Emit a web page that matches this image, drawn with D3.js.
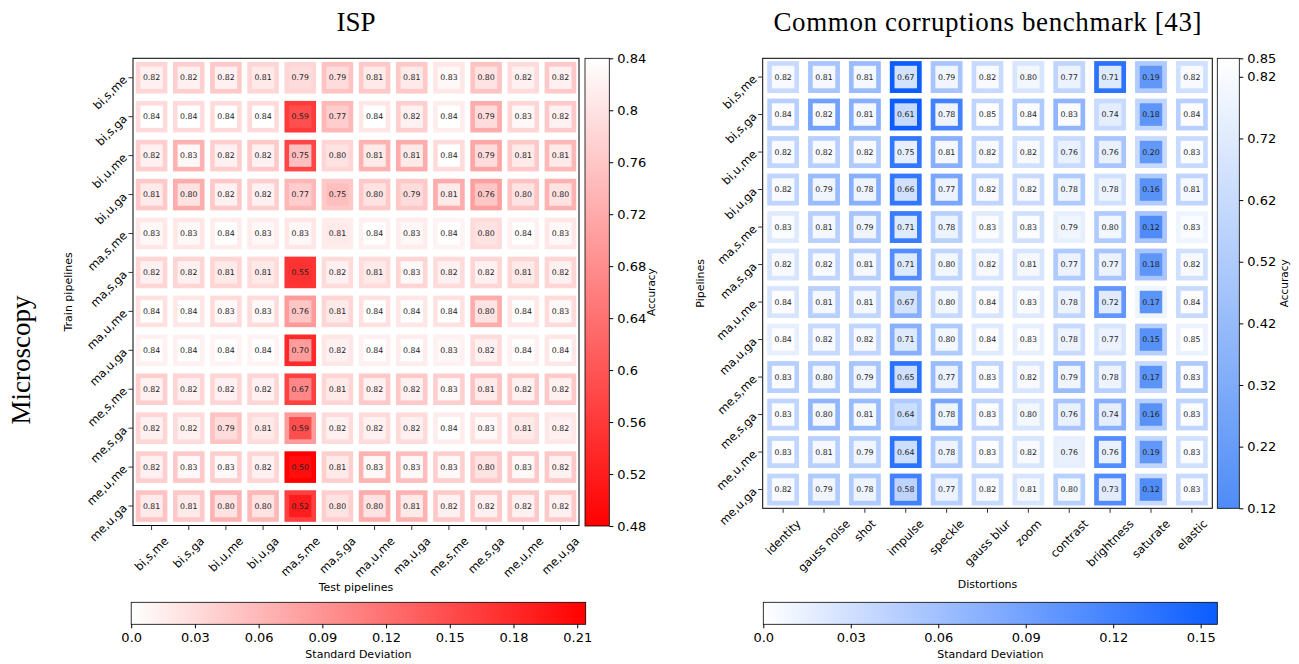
<!DOCTYPE html>
<html>
<head>
<meta charset="utf-8">
<script src="https://cdn.jsdelivr.net/npm/d3@7"></script>
<style>
  body { margin: 0; background: #fff; }
  svg { display: block; font-family: "DejaVu Sans", sans-serif; }
  svg text { font-family: "DejaVu Sans", sans-serif; }
  svg text.title { font-family: "Liberation Serif", serif; font-size: 27px; }
</style>
</head>
<body>
<svg id="chart" width="1299" height="664"></svg>
<script>
// ---- data ----
const pipelines = ["bi,s,me", "bi,s,ga", "bi,u,me", "bi,u,ga", "ma,s,me", "ma,s,ga",
    "ma,u,me", "ma,u,ga", "me,s,me", "me,s,ga", "me,u,me", "me,u,ga"];

const distortions = ["identity", "gauss noise", "shot", "impulse", "speckle", "gauss blur",
    "zoom", "contrast", "brightness", "saturate", "elastic"];

// ISP panel: rows = train pipelines, cols = test pipelines
const ispAccuracy = [
    [0.82, 0.82, 0.82, 0.81, 0.79, 0.79, 0.81, 0.81, 0.83, 0.80, 0.82, 0.82],
    [0.84, 0.84, 0.84, 0.84, 0.59, 0.77, 0.84, 0.82, 0.84, 0.79, 0.83, 0.82],
    [0.82, 0.83, 0.82, 0.82, 0.75, 0.80, 0.81, 0.81, 0.84, 0.79, 0.81, 0.81],
    [0.81, 0.80, 0.82, 0.82, 0.77, 0.75, 0.80, 0.79, 0.81, 0.76, 0.80, 0.80],
    [0.83, 0.83, 0.84, 0.83, 0.83, 0.81, 0.84, 0.83, 0.84, 0.80, 0.84, 0.83],
    [0.82, 0.82, 0.81, 0.81, 0.55, 0.82, 0.81, 0.83, 0.82, 0.82, 0.81, 0.82],
    [0.84, 0.84, 0.83, 0.83, 0.76, 0.81, 0.84, 0.84, 0.84, 0.80, 0.84, 0.83],
    [0.84, 0.84, 0.84, 0.84, 0.70, 0.82, 0.84, 0.84, 0.83, 0.82, 0.84, 0.84],
    [0.82, 0.82, 0.82, 0.82, 0.67, 0.81, 0.82, 0.82, 0.83, 0.81, 0.82, 0.82],
    [0.82, 0.82, 0.79, 0.81, 0.59, 0.82, 0.82, 0.82, 0.84, 0.83, 0.81, 0.82],
    [0.82, 0.83, 0.83, 0.82, 0.50, 0.81, 0.83, 0.83, 0.83, 0.80, 0.83, 0.82],
    [0.81, 0.81, 0.80, 0.80, 0.52, 0.80, 0.80, 0.81, 0.82, 0.82, 0.82, 0.82]
];

const ispStd = [
    [0.035, 0.04, 0.045, 0.035, 0.035, 0.05, 0.045, 0.045, 0.02, 0.05, 0.03, 0.045],
    [0.03, 0.03, 0.03, 0.03, 0.165, 0.06, 0.02, 0.04, 0.015, 0.07, 0.035, 0.045],
    [0.04, 0.065, 0.04, 0.045, 0.155, 0.035, 0.065, 0.07, 0.03, 0.075, 0.045, 0.06],
    [0.045, 0.07, 0.045, 0.04, 0.06, 0.045, 0.045, 0.045, 0.07, 0.08, 0.05, 0.065],
    [0.02, 0.02, 0.015, 0.015, 0.02, 0.015, 0.012, 0.015, 0.01, 0.03, 0.012, 0.02],
    [0.035, 0.035, 0.035, 0.03, 0.17, 0.03, 0.03, 0.035, 0.03, 0.035, 0.035, 0.035],
    [0.025, 0.02, 0.03, 0.03, 0.085, 0.035, 0.025, 0.02, 0.025, 0.07, 0.02, 0.03],
    [0.012, 0.012, 0.01, 0.01, 0.18, 0.02, 0.012, 0.015, 0.012, 0.03, 0.012, 0.02],
    [0.04, 0.035, 0.035, 0.035, 0.16, 0.035, 0.045, 0.045, 0.04, 0.05, 0.045, 0.045],
    [0.035, 0.03, 0.05, 0.03, 0.085, 0.03, 0.03, 0.03, 0.015, 0.025, 0.03, 0.02],
    [0.04, 0.045, 0.04, 0.035, 0.215, 0.04, 0.065, 0.055, 0.04, 0.045, 0.045, 0.045],
    [0.05, 0.045, 0.065, 0.06, 0.16, 0.04, 0.07, 0.065, 0.045, 0.045, 0.045, 0.045]
];

// Common corruptions panel: rows = pipelines, cols = distortions
const ccAccuracy = [
    [0.82, 0.81, 0.81, 0.67, 0.79, 0.82, 0.80, 0.77, 0.71, 0.19, 0.82],
    [0.84, 0.82, 0.81, 0.61, 0.78, 0.85, 0.84, 0.83, 0.74, 0.18, 0.84],
    [0.82, 0.82, 0.82, 0.75, 0.81, 0.82, 0.82, 0.76, 0.76, 0.20, 0.83],
    [0.82, 0.79, 0.78, 0.66, 0.77, 0.82, 0.82, 0.78, 0.78, 0.16, 0.81],
    [0.83, 0.81, 0.79, 0.71, 0.78, 0.83, 0.83, 0.79, 0.80, 0.12, 0.83],
    [0.82, 0.82, 0.81, 0.71, 0.80, 0.82, 0.81, 0.77, 0.77, 0.18, 0.82],
    [0.84, 0.81, 0.81, 0.67, 0.80, 0.84, 0.83, 0.78, 0.72, 0.17, 0.84],
    [0.84, 0.82, 0.82, 0.71, 0.80, 0.84, 0.83, 0.78, 0.77, 0.15, 0.85],
    [0.83, 0.80, 0.79, 0.65, 0.77, 0.83, 0.82, 0.79, 0.78, 0.17, 0.83],
    [0.83, 0.80, 0.81, 0.64, 0.78, 0.83, 0.80, 0.76, 0.74, 0.16, 0.83],
    [0.83, 0.81, 0.79, 0.64, 0.78, 0.83, 0.82, 0.76, 0.76, 0.19, 0.83],
    [0.82, 0.79, 0.78, 0.58, 0.77, 0.82, 0.81, 0.80, 0.73, 0.12, 0.83]
];

const ccStd = [
    [0.035, 0.055, 0.065, 0.155, 0.055, 0.035, 0.025, 0.04, 0.135, 0.05, 0.03],
    [0.045, 0.09, 0.075, 0.155, 0.12, 0.04, 0.05, 0.07, 0.035, 0.04, 0.045],
    [0.04, 0.045, 0.05, 0.13, 0.075, 0.04, 0.03, 0.035, 0.055, 0.035, 0.035],
    [0.04, 0.065, 0.075, 0.13, 0.085, 0.04, 0.035, 0.05, 0.03, 0.05, 0.04],
    [0.02, 0.045, 0.055, 0.125, 0.045, 0.02, 0.03, 0.015, 0.05, 0.055, 0.01],
    [0.025, 0.04, 0.045, 0.11, 0.04, 0.025, 0.025, 0.05, 0.055, 0.055, 0.03],
    [0.025, 0.045, 0.04, 0.075, 0.035, 0.025, 0.02, 0.04, 0.1, 0.01, 0.035],
    [0.015, 0.035, 0.04, 0.075, 0.05, 0.02, 0.015, 0.035, 0.025, 0.045, 0.012],
    [0.045, 0.05, 0.055, 0.135, 0.065, 0.04, 0.025, 0.065, 0.045, 0.035, 0.05],
    [0.04, 0.07, 0.065, 0.05, 0.085, 0.04, 0.025, 0.055, 0.075, 0.045, 0.04],
    [0.04, 0.045, 0.045, 0.135, 0.05, 0.035, 0.025, 0.015, 0.11, 0.04, 0.03],
    [0.04, 0.05, 0.05, 0.12, 0.045, 0.035, 0.025, 0.045, 0.11, 0.035, 0.035]
];

// colorbar ticks
const ispAccTicks = [0.84, 0.80, 0.76, 0.72, 0.68, 0.64, 0.60, 0.56, 0.52, 0.48];
const ispAccTickLabels = ["0.84", "0.8", "0.76", "0.72", "0.68", "0.64", "0.6", "0.56", "0.52", "0.48"];
const ispStdTicks = [0.0, 0.03, 0.06, 0.09, 0.12, 0.15, 0.18, 0.21];
const ispStdTickLabels = ["0.0", "0.03", "0.06", "0.09", "0.12", "0.15", "0.18", "0.21"];
const ccAccTicks = [0.85, 0.82, 0.72, 0.62, 0.52, 0.42, 0.32, 0.22, 0.12];
const ccAccTickLabels = ["0.85", "0.82", "0.72", "0.62", "0.52", "0.42", "0.32", "0.22", "0.12"];
const ccStdTicks = [0.0, 0.03, 0.06, 0.09, 0.12, 0.15];
const ccStdTickLabels = ["0.0", "0.03", "0.06", "0.09", "0.12", "0.15"];


var svg = d3.select("#chart");
var fmt = d3.format(".2f");
var gradId = 0;
var FONT = "DejaVu Sans";
var TICK_FS = 11.5;

// fill a rect with a gradient sampled from a color scale
function gradient(colorScale, domain, vertical) {
    var id = "grad" + (gradId++);
    var g = svg.append("defs").append("linearGradient")
        .attr("id", id)
        .attr("x1", 0).attr("y1", vertical ? 1 : 0)
        .attr("x2", vertical ? 0 : 1).attr("y2", 0);
    d3.range(0, 1.0001, 0.1).forEach(t => {
        g.append("stop")
            .attr("offset", t)
            .attr("stop-color", colorScale(domain[0] + t * (domain[1] - domain[0])));
    });
    return "url(#" + id + ")";
}

function drawPanel(p) {
    var x = d3.scaleBand().domain(p.cols).range([p.left, p.right]);
    var y = d3.scaleBand().domain(p.rows).range([p.top, p.bottom]);
    var step = Math.min(x.bandwidth(), y.bandwidth());
    var outer = step * 0.85, inner = step * 0.6;

    var accColor = d3.scaleLinear().domain(p.accDomain).range([p.accDark, "#ffffff"]).clamp(true);
    var stdColor = d3.scaleLinear().domain(p.stdDomain).range(["#ffffff", p.stdDark]).clamp(true);

    var cells = [];
    p.rows.forEach((r, i) => p.cols.forEach((c, j) => {
        cells.push({ row: r, col: c, acc: p.acc[i][j], std: p.std[i][j] });
    }));

    var g = svg.append("g");
    var cell = g.selectAll(".cell").data(cells).enter().append("g")
        .attr("transform", d => "translate(" + (x(d.col) + x.bandwidth() / 2) + "," + (y(d.row) + y.bandwidth() / 2) + ")");

    cell.append("rect")
        .attr("x", -outer / 2).attr("y", -outer / 2)
        .attr("width", outer).attr("height", outer)
        .attr("fill", d => stdColor(d.std));

    cell.append("rect")
        .attr("x", -inner / 2).attr("y", -inner / 2)
        .attr("width", inner).attr("height", inner)
        .attr("fill", d => accColor(d.acc));

    cell.append("text")
        .attr("text-anchor", "middle")
        .attr("dominant-baseline", "central")
        .attr("font-size", "7.8px")
        .attr("fill", "#222")
        .text(d => fmt(d.acc));

    // frame
    g.append("rect")
        .attr("x", p.left).attr("y", p.top)
        .attr("width", p.right - p.left).attr("height", p.bottom - p.top)
        .attr("fill", "none").attr("stroke", "#000").attr("stroke-width", 1);

    // x axis, labels rotated 45 and centred under the tick
    var xa = g.append("g")
        .attr("transform", "translate(0," + p.bottom + ")")
        .call(d3.axisBottom(x).tickSize(4.5))
        .attr("font-family", FONT);
    xa.select(".domain").remove();
    xa.selectAll(".tick line").attr("stroke", "#333");
    xa.selectAll(".tick text")
        .attr("font-size", TICK_FS + "px").attr("fill", "#000")
        .attr("y", null).attr("dy", null)
        .attr("text-anchor", "middle")
        .attr("dominant-baseline", "central")
        .attr("transform", function() {
            var L = this.getComputedTextLength();
            var h = (L + TICK_FS * 1.1) * 0.7071;
            return "translate(0," + (9 + h / 2) + ") rotate(-45)";
        });

    // y axis, labels rotated 45 anchored at their end
    var ya = g.append("g")
        .attr("transform", "translate(" + p.left + ",0)")
        .call(d3.axisLeft(y).tickSize(4.5))
        .attr("font-family", FONT);
    ya.select(".domain").remove();
    ya.selectAll(".tick line").attr("stroke", "#333");
    ya.selectAll(".tick text")
        .attr("font-size", TICK_FS + "px").attr("fill", "#000")
        .attr("x", null).attr("dy", null)
        .attr("text-anchor", "end")
        .attr("dominant-baseline", "central")
        .attr("transform", "translate(-8,0) rotate(-45)");

    // axis labels
    g.append("text")
        .attr("x", (p.left + p.right) / 2).attr("y", p.xLabelY)
        .attr("text-anchor", "middle").attr("font-size", "11px")
        .text(p.xLabel);
    g.append("text")
        .attr("transform", "translate(" + p.yLabelX + "," + (p.top + p.bottom) / 2 + ") rotate(-90)")
        .attr("text-anchor", "middle").attr("font-size", "11px")
        .text(p.yLabel);

    // title
    var t = svg.append("text").attr("class", "title")
        .attr("x", (p.left + p.right) / 2).attr("y", 31)
        .attr("text-anchor", "middle")
        .text(p.title);
    if (p.titleWidth) t.attr("textLength", p.titleWidth).attr("lengthAdjust", "spacing");

    // accuracy colorbar (vertical)
    var cbY = d3.scaleLinear().domain(p.accDomain).range([p.accCb.bottom, p.top]);
    g.append("rect")
        .attr("x", p.accCb.left).attr("y", p.top)
        .attr("width", p.accCb.width).attr("height", p.accCb.bottom - p.top)
        .attr("fill", gradient(accColor, p.accDomain, true))
        .attr("stroke", "#000").attr("stroke-width", 0.8);
    var ca = g.append("g")
        .attr("transform", "translate(" + (p.accCb.left + p.accCb.width) + ",0)")
        .call(d3.axisRight(cbY).tickValues(p.accTicks).tickFormat((d, i) => p.accTickLabels[i]).tickSize(4).tickPadding(4))
        .attr("font-family", FONT);
    ca.select(".domain").remove();
    ca.selectAll(".tick text").attr("font-size", "13px").attr("fill", "#000");
    g.append("text")
        .attr("transform", "translate(" + p.accLabelX + "," + (p.top + p.accCb.bottom) / 2 + ") rotate(-90)")
        .attr("text-anchor", "middle").attr("font-size", "10.5px")
        .text("Accuracy");

    // std colorbar (horizontal)
    var sx = d3.scaleLinear().domain(p.stdDomain).range([p.stdCb.left, p.stdCb.right]);
    g.append("rect")
        .attr("x", p.stdCb.left).attr("y", p.stdCb.top)
        .attr("width", p.stdCb.right - p.stdCb.left).attr("height", p.stdCb.height)
        .attr("fill", gradient(stdColor, p.stdDomain, false))
        .attr("stroke", "#000").attr("stroke-width", 0.8);
    var cs = g.append("g")
        .attr("transform", "translate(0," + (p.stdCb.top + p.stdCb.height) + ")")
        .call(d3.axisBottom(sx).tickValues(p.stdTicks).tickFormat((d, i) => p.stdTickLabels[i]).tickSize(4).tickPadding(4))
        .attr("font-family", FONT);
    cs.select(".domain").remove();
    cs.selectAll(".tick text").attr("font-size", "13px").attr("fill", "#000");
    g.append("text")
        .attr("x", (p.stdCb.left + p.stdCb.right) / 2).attr("y", 658)
        .attr("text-anchor", "middle").attr("font-size", "11px")
        .text("Standard Deviation");
}

drawPanel({
    title: "ISP",
    rows: pipelines, cols: pipelines,
    acc: ispAccuracy, std: ispStd,
    left: 133, right: 579, top: 58.3, bottom: 525.5,
    accDomain: [0.48, 0.84], stdDomain: [0, 0.214],
    accDark: "#ff0000", stdDark: "#ff0000",
    xLabel: "Test pipelines", xLabelY: 591,
    yLabel: "Train pipelines", yLabelX: 72,
    accCb: { left: 585, width: 24.3, bottom: 526 },
    accTicks: ispAccTicks, accTickLabels: ispAccTickLabels, accLabelX: 655,
    stdCb: { left: 131.2, right: 585.7, top: 602.3, height: 22 },
    stdTicks: ispStdTicks, stdTickLabels: ispStdTickLabels
});

drawPanel({
    title: "Common corruptions benchmark [43]", titleWidth: 428,
    rows: pipelines, cols: distortions,
    acc: ccAccuracy, std: ccStd,
    left: 762.7, right: 1212.3, top: 58.3, bottom: 508.3,
    accDomain: [0.12, 0.85], stdDomain: [0, 0.1557],
    accDark: "#4f8cf7", stdDark: "#0a5cff",
    xLabel: "Distortions", xLabelY: 588,
    yLabel: "Pipelines", yLabelX: 704,
    accCb: { left: 1217.3, width: 22, bottom: 508.3 },
    accTicks: ccAccTicks, accTickLabels: ccAccTickLabels, accLabelX: 1288,
    stdCb: { left: 763.3, right: 1217.3, top: 602.3, height: 22 },
    stdTicks: ccStdTicks, stdTickLabels: ccStdTickLabels
});

// row label for the whole figure
svg.append("text").attr("class", "title")
    .attr("transform", "translate(30,360) rotate(-90)")
    .attr("text-anchor", "middle")
    .text("Microscopy");
</script>
</body>
</html>
